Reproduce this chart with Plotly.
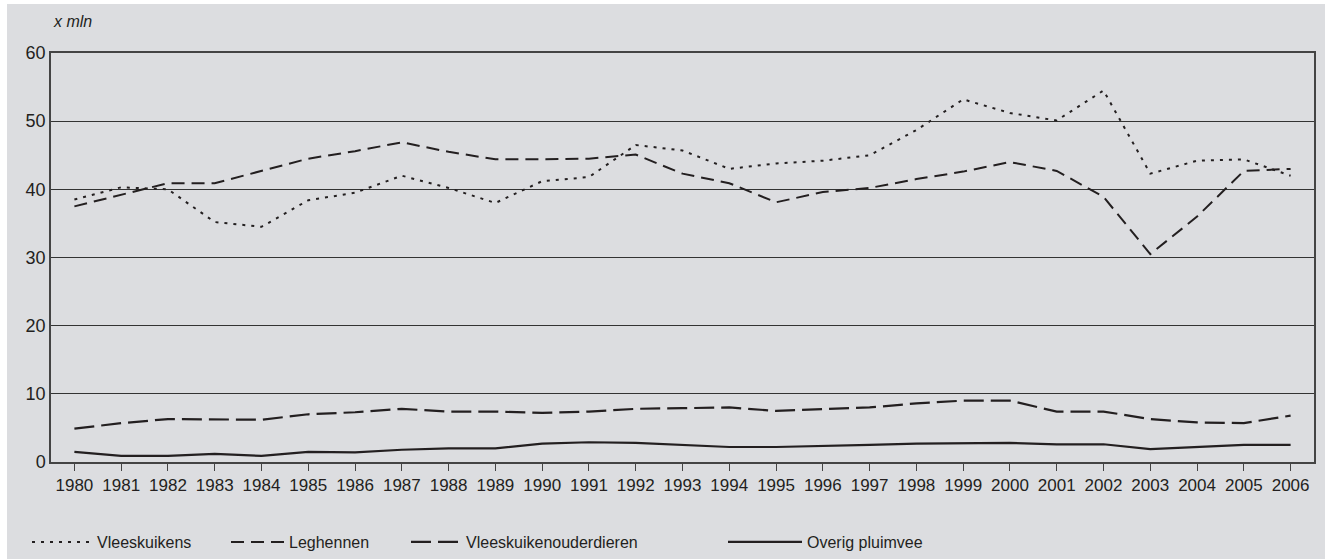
import plotly.graph_objects as go

years = list(range(1980, 2007))

vleeskuikens = [38.5, 40.3, 40.0, 35.2, 34.5, 38.4, 39.5, 42.0, 40.2, 38.0,
                41.2, 41.8, 46.5, 45.7, 43.0, 43.8, 44.2, 45.0, 48.7, 53.2,
                51.2, 50.1, 54.5, 42.3, 44.2, 44.4, 42.0]
leghennen = [37.5, 39.2, 40.9, 40.9, 42.7, 44.5, 45.6, 46.9, 45.5, 44.4,
             44.4, 44.5, 45.1, 42.3, 40.9, 38.1, 39.6, 40.2, 41.5, 42.6,
             44.0, 42.7, 38.9, 30.5, 36.0, 42.7, 43.0]
ouderdieren = [4.9, 5.7, 6.3, 6.3, 6.2, 7.0, 7.3, 7.8, 7.4, 7.4,
               7.2, 7.4, 7.8, 7.9, 8.0, 7.5, 7.7, 8.0, 8.6, 9.0,
               9.0, 7.4, 7.4, 6.3, 5.8, 5.7, 6.8]
overig = [1.5, 0.9, 0.9, 1.2, 0.9, 1.5, 1.4, 1.8, 2.0, 2.0,
          2.7, 2.9, 2.8, 2.5, 2.2, 2.2, 2.3, 2.5, 2.7, 2.8,
          2.8, 2.6, 2.6, 1.9, 2.2, 2.5, 2.5]

names = ["Vleeskuikens", "Leghennen", "Vleeskuikenouderdieren", "Overig pluimvee"]
series = [vleeskuikens, leghennen, ouderdieren, overig]
dashes = ["3px,6px", "13px,7px", "20px,7px", "solid"]
widths = [2, 2, 2.2, 2.2]
legend_ids = ["legend", "legend2", "legend3", "legend4"]
# legend layout: left edge of legend text (px) and symbol length (px)
legend_text_px = [98, 290, 467, 808]
legend_symbol_px = [60, 53, 50, 74]

LINE = "#231f20"
BG = "#dcdde0"
FONT = "Liberation Sans, Arial, sans-serif"

W, H = 1330, 559
ML, MR, MT, MB = 51, 16, 53, 97
PW = W - ML - MR
PH = H - MT - MB

fig = go.Figure()
for name, ys, d, w, lg in zip(names, series, dashes, widths, legend_ids):
    fig.add_trace(go.Scatter(
        x=years, y=ys, name=name, mode="lines",
        line=dict(color=LINE, width=w, dash=d),
        legend=lg,
    ))

legend_common = dict(
    orientation="h", yanchor="middle", xanchor="left",
    xref="container", yref="container",
    bgcolor="rgba(0,0,0,0)", borderwidth=0,
    font=dict(family=FONT, size=16, color="#231f20"),
)
leg_layout = {}
for lg, px, sw in zip(legend_ids, legend_text_px, legend_symbol_px):
    leg_layout[lg] = dict(legend_common, itemwidth=sw,
                          x=(px - sw - 11) / W, y=1 - 542 / H)

fig.update_layout(
    width=W, height=H,
    margin=dict(l=ML, r=MR, t=MT, b=MB, autoexpand=False),
    paper_bgcolor="white",
    plot_bgcolor="white",
    font=dict(family=FONT, size=17, color="#231f20"),
    showlegend=True,
    **leg_layout,
    shapes=[dict(
        type="rect", xref="paper", yref="paper", layer="below",
        x0=(7 - ML) / PW, x1=(1325 - ML) / PW,
        y0=(MT + PH - 565) / PH, y1=(MT + PH - 4) / PH,
        fillcolor=BG, line=dict(width=0),
    )],
    annotations=[dict(
        text="<i>x mln</i>", xref="paper", yref="paper",
        x=(51 - ML) / PW, y=(MT + PH - 22) / PH, xanchor="left", yanchor="middle",
        showarrow=False, font=dict(family=FONT, size=16, color="#231f20"),
    )],
    xaxis=dict(
        range=[1979.5, 2006.5], tickmode="array", tickvals=years,
        ticktext=[str(y) for y in years],
        ticks="outside", ticklen=7, tickcolor="#444", tickwidth=1,
        showline=True, linecolor="#444", linewidth=1.5, mirror=True,
        showgrid=False, zeroline=False,
        tickfont=dict(size=17),
    ),
    yaxis=dict(
        range=[0, 60], tickmode="array", tickvals=[0, 10, 20, 30, 40, 50, 60],
        ticks="", showline=True, linecolor="#444", linewidth=1.5, mirror=True,
        showgrid=True, gridcolor="#333", gridwidth=1, zeroline=False,
        tickfont=dict(size=18),
    ),
)

fig.write_html("out.html", config={"displayModeBar": False},
               post_script="document.body.style.margin='0';")
